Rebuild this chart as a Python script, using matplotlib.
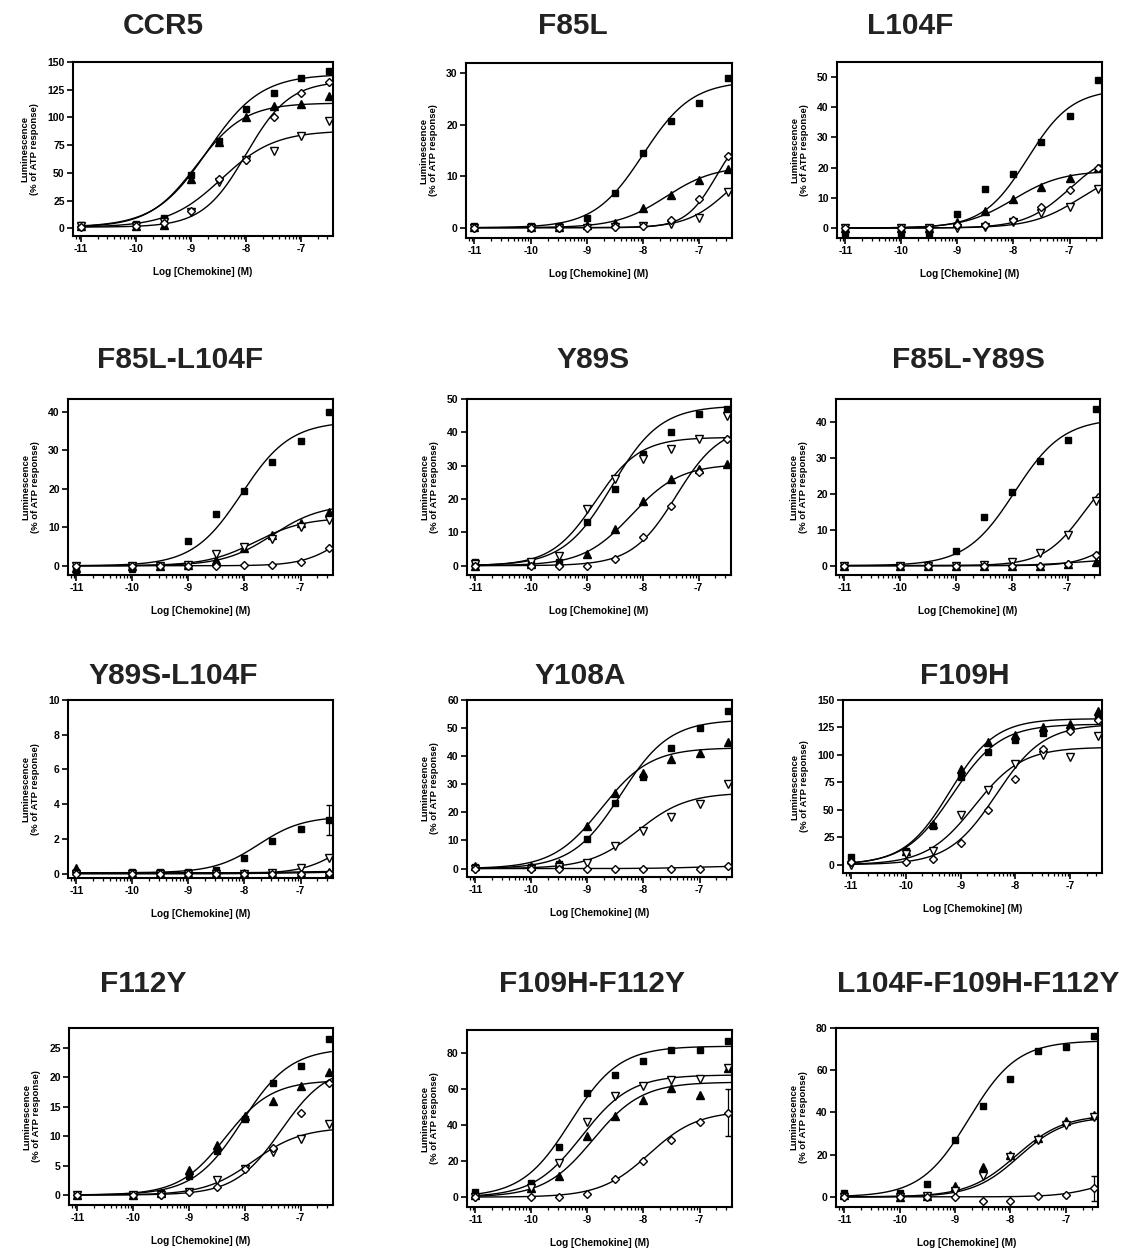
import numpy as np
import matplotlib
matplotlib.use("Agg")
import matplotlib.pyplot as plt

plt.rcParams['font.family'] = ['Liberation Sans', 'DejaVu Sans']
plt.rcParams['font.weight'] = 'bold'
plt.rcParams['axes.labelweight'] = 'bold'

# log dose of chemokine (M)
log_dose = [-11, -10, -9.5, -9, -8.5, -8, -7.5, -7, -6.5]

titles = ['CCR5', 'F85L', 'L104F',
          'F85L-L104F', 'Y89S', 'F85L-Y89S',
          'Y89S-L104F', 'Y108A', 'F109H',
          'F112Y', 'F109H-F112Y', 'L104F-F109H-F112Y']

# series order in each panel: filled square, filled triangle, open inverted triangle, open diamond
ccr5 = [[3, 4, 9, 48, 79, 108, 122, 136, 142],
        [2, 2, 3, 44, 78, 100, 110, 112, 119],
        [2, 2, 6, 15, 42, 62, 70, 83, 97],
        [1, 2, 5, 16, 44, 62, 100, 122, 132]]
f85l = [[0.3, 0.3, 0.3, 1.8, 6.7, 14.5, 20.8, 24.2, 29],
        [0.2, 0.2, 0.2, 0.5, 1, 3.8, 6.3, 9.3, 11.5],
        [0, 0, 0, 0, 0.1, 0.3, 0.8, 1.8, 7],
        [0, 0, 0, 0, 0.2, 0.3, 1.5, 5.5, 14]]
l104f = [[-1.5, -1.5, -1.5, 4.5, 13, 18, 28.5, 37, 49],
         [0, 0, 0, 2, 5.5, 9.5, 13.5, 16.5, 20],
         [0, 0, 0, 0, 0.5, 2, 5, 7, 13],
         [0, 0, 0, 1, 1, 2.5, 7, 12.5, 20]]
f85l_l104f = [[-1, -0.8, 0, 6.5, 13.5, 19.5, 27, 32.5, 40],
              [-0.5, 0, 0, 0.3, 1.5, 4.5, 8, 11, 14],
              [0, 0, 0, 0.3, 3, 5, 7, 10, 12],
              [0, 0, 0, 0, 0, 0.3, 0.3, 1, 4.5]]
y89s = [[1, 0.5, 1, 13, 23, 33.5, 40, 45.5, 47],
        [0, 0.5, 1, 3.5, 11, 19.5, 26, 29, 30.5],
        [0.5, 1, 3, 17, 26, 32, 35, 38, 45],
        [0, 0, 0, 0, 2, 8.5, 18, 28, 38]]
f85l_y89s = [[0, 0, 0, 4, 13.5, 20.5, 29, 35, 43.5],
             [0, 0, 0, 0, 0, 0, 0, 0.4, 1],
             [0, 0, 0, 0, 0.3, 1, 3.5, 8.5, 18],
             [0, 0, 0, 0, 0, 0, 0, 0.5, 3]]
y89s_l104f = [[0.1, 0.1, 0.1, 0.1, 0.2, 0.9, 1.9, 2.6, 3.1],
              [0.3, 0.05, 0.05, 0.05, 0.05, 0.05, 0.05, 0.05, 0.1],
              [0, 0, 0, 0, 0, 0, 0.05, 0.3, 0.9],
              [0, 0, 0, 0, 0, 0, 0, 0, 0.05]]
y108a = [[0.5, 0.5, 1.5, 10.5, 23.5, 32.5, 43, 50, 56],
         [1, 1, 2, 15, 27, 34, 39, 41, 45],
         [0, 0, 0.5, 2, 8, 13.5, 18.5, 23, 30],
         [0, 0, 0, 0, 0, 0, 0, 0, 1]]
f109h = [[7, 12, 35, 80, 103, 114, 120, 124, 135],
         [5, 12, 37, 87, 112, 118, 125, 128, 140],
         [0, 10, 12, 45, 68, 92, 100, 98, 117],
         [2, 2, 5, 20, 50, 78, 105, 122, 132]]
f112y = [[0, 0, 0.3, 3.3, 7.5, 13, 19, 22, 26.5],
         [0, 0, 0.3, 4.3, 8.5, 13.5, 16, 18.5, 21],
         [0, 0, 0, 0.5, 2.5, 4.5, 7.3, 9.5, 12],
         [0, 0, 0, 0.5, 1.3, 4.5, 8, 14, 19]]
f109h_f112y = [[3, 8, 28, 58, 68, 76, 82, 82, 87],
               [1, 5, 12, 34, 45, 54, 61, 57, 72],
               [0, 5, 19, 42, 56, 62, 65, 66, 72],
               [0, 0, 0, 2, 10, 20, 32, 42, 47]]
triple = [[2, 2, 6, 27, 43, 56, 69, 71, 76],
          [1, 0, 0.5, 5, 14, 20, 28, 36, 39],
          [0, 0, 0.5, 3, 10, 19, 27, 34, 38],
          [0, 0, 0, 0, -2, -2, 0.5, 1, 4]]

# fitted curves: (bottom, top, logEC50, hill) for each series
ccr5_fit = [(1, 139, -8.7, 0.9), (1, 113, -8.9, 1.0), (1, 88, -8.45, 0.9), (1, 133, -8.0, 1.1)]
f85l_fit = [(0, 28.5, -8.0, 1.0), (0, 12, -7.6, 1.0), (0, 14, -6.5, 1.2), (0, 20, -6.7, 1.6)]
l104f_fit = [(0, 46, -7.75, 1.1), (0, 19, -8.0, 1.0), (0, 20, -6.8, 1.0), (0, 26, -7.0, 1.1)]
f85l_l104f_fit = [(0, 37.5, -8.05, 1.0), (0, 16, -7.5, 1.0), (0, 12.5, -7.8, 1.0), (0, 12, -6.3, 1.3)]
y89s_fit = [(0, 48, -8.55, 1.0), (0, 30.5, -8.2, 1.0), (0, 38.5, -8.85, 1.1), (0, 42, -7.4, 1.1)]
f85l_y89s_fit = [(0, 41, -7.95, 1.0), (0, 2, -6.8, 1.0), (0, 30, -6.7, 1.2), (0, 10, -6.3, 1.5)]
y89s_l104f_fit = [(0.05, 3.3, -7.75, 1.1), (0.05, 0.15, -7.0, 1.0), (0, 3, -6.2, 1.2), (0, 0.1, -7.0, 1.0)]
y108a_fit = [(0, 53, -8.4, 1.0), (0, 43, -8.75, 1.0), (0, 27, -8.1, 1.0), (0, 1, -7.0, 1.0)]
f109h_fit = [(0, 128, -9.15, 1.0), (0, 133, -9.2, 1.05), (0, 107, -8.75, 1.0), (0, 128, -8.35, 1.0)]
f112y_fit = [(0, 25, -8.05, 1.0), (0, 19.5, -8.35, 1.05), (0, 11.5, -7.85, 1.0), (0, 22, -7.35, 1.05)]
f109h_f112y_fit = [(0, 84, -9.3, 1.0), (0, 64, -8.9, 1.0), (0, 68, -9.1, 1.0), (0, 48, -7.9, 1.0)]
triple_fit = [(0, 74, -8.75, 1.0), (0, 39, -7.9, 1.0), (0, 38, -7.85, 1.05), (0, 10, -6.4, 1.2)]

# visible error bars: panel -> [(series, dose index, sem)]
error_bars = {6: [(0, 8, 0.85)], 10: [(3, 8, 13)], 11: [(3, 8, 6)]}

panels = [ccr5, f85l, l104f, f85l_l104f, y89s, f85l_y89s,
          y89s_l104f, y108a, f109h, f112y, f109h_f112y, triple]
fits = [ccr5_fit, f85l_fit, l104f_fit, f85l_l104f_fit, y89s_fit, f85l_y89s_fit,
        y89s_l104f_fit, y108a_fit, f109h_fit, f112y_fit, f109h_f112y_fit, triple_fit]

ylims = [(-7, 150), (-2, 32), (-3.3, 55), (-2.4, 43.3), (-2.8, 50), (-2.6, 46.4),
         (-0.25, 10), (-3, 60), (-7.6, 150), (-1.7, 28.4), (-5.5, 93), (-4.8, 80)]
yticks = [np.arange(0, 151, 25), [0, 10, 20, 30], np.arange(0, 51, 10), np.arange(0, 41, 10),
          np.arange(0, 51, 10), np.arange(0, 41, 10), np.arange(0, 11, 2), np.arange(0, 61, 10),
          np.arange(0, 151, 25), np.arange(0, 26, 5), np.arange(0, 81, 20), np.arange(0, 81, 20)]

# axes boxes in pixels: left, top, right, bottom
boxes = [(73, 62, 333, 236), (466, 63, 732, 238), (837, 62, 1102, 238),
         (68, 399, 333, 575), (467, 399, 731, 575), (836, 399, 1100, 575),
         (68, 700, 333, 878), (467, 700, 732, 877), (843, 700, 1102, 873),
         (69, 1028, 333, 1205), (467, 1030, 732, 1207), (836, 1028, 1098, 1207)]
title_xy = [(163, 26), (573, 26), (910, 26),
            (180, 360), (593, 360), (968, 360),
            (173, 676), (580, 676), (965, 676),
            (143, 984), (592, 984), (978, 984)]

W, H = 1129, 1252
fig = plt.figure(figsize=(W / 100, H / 100), dpi=100)

markers = ['s', '^', 'v', 'D']
faces = ['black', 'black', 'white', 'white']
msizes = [5, 5.5, 5.5, 4.2]


def logistic(x, bottom, top, ec50, hill):
    return bottom + (top - bottom) / (1 + 10 ** ((ec50 - x) * hill))


xs = np.linspace(-11.05, -6.45, 300)
minor = [d + np.log10(k) for d in range(-12, -6) for k in range(2, 10)]

for i in range(12):
    l, t, r, b = boxes[i]
    ax = fig.add_axes([l / W, 1 - b / H, (r - l) / W, (b - t) / H])
    for s in range(4):
        ax.plot(xs, logistic(xs, *fits[i][s]), color='black', lw=1.0, zorder=2)
        ax.plot(log_dose, panels[i][s], linestyle='none', marker=markers[s],
                markersize=msizes[s], markerfacecolor=faces[s],
                markeredgecolor='black', markeredgewidth=1.0, zorder=3)
    for s, k, e in error_bars.get(i, []):
        ax.errorbar(log_dose[k], panels[i][s][k], yerr=e, fmt='none',
                    ecolor='black', elinewidth=0.9, capsize=2.5, zorder=2)
    ax.set_xlim(-11.15, -6.42)
    ax.set_ylim(*ylims[i])
    ax.set_xticks([-11, -10, -9, -8, -7])
    ax.set_xticklabels(['-11', '-10', '-9', '-8', '-7'])
    ax.set_xticks([m for m in minor if -11.15 < m < -6.42], minor=True)
    ax.set_yticks(yticks[i])
    ax.tick_params(axis='both', which='major', direction='out', length=4,
                   width=1.2, labelsize=7.5, pad=2)
    ax.tick_params(axis='x', which='minor', direction='out', length=2.2, width=0.9)
    for sp in ax.spines.values():
        sp.set_linewidth(1.5)
    ax.set_ylabel('Luminescence\n(% of ATP response)', fontsize=6.8, labelpad=6,
                  linespacing=1.1)
    ax.set_xlabel('Log [Chemokine] (M)', fontsize=7.2, labelpad=9)
    tx, ty = title_xy[i]
    fig.text(tx / W, 1 - ty / H, titles[i], ha='center', va='center',
             fontsize=21.5, weight='bold', color='#222222')

fig.savefig('out.png', dpi=100, facecolor='white')
